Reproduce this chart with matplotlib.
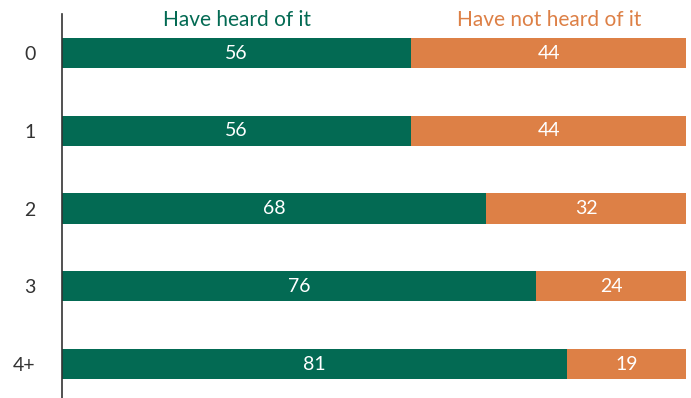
import matplotlib
matplotlib.use("Agg")
import matplotlib.pyplot as plt

categories = ["0", "1", "2", "3", "4+"]
heard = [56, 56, 68, 76, 81]
not_heard = [44, 44, 32, 24, 19]
series_names = ["Have heard of it", "Have not heard of it"]

green = "#036A53"
orange = "#DD8046"

plt.rcParams["font.family"] = ["Lato", "DejaVu Sans"]

fig = plt.figure(figsize=(6.91, 3.98), dpi=100)
ax = fig.add_axes([62 / 691, 0, (686 - 62) / 691, 1 - 14 / 398])

pos = list(range(len(categories)))
ax.barh(pos, heard, height=0.39, color=green)
ax.barh(pos, not_heard, left=heard, height=0.39, color=orange)

for i in pos:
    ax.text(heard[i] / 2, i, str(heard[i]), ha="center", va="center",
            color="white", fontsize=14)
    ax.text(heard[i] + not_heard[i] / 2, i, str(not_heard[i]), ha="center",
            va="center", color="white", fontsize=14)

# series headers above the first bar
ax.text(heard[0] / 2, -0.43, series_names[0], ha="center", va="center",
        color=green, fontsize=15)
ax.text(heard[0] + not_heard[0] / 2, -0.43, series_names[1], ha="center",
        va="center", color=orange, fontsize=15)

ax.set_xlim(0, 100)
ax.set_ylim(4.437, -0.502)
ax.set_yticks(pos)
ax.set_yticklabels(categories, fontsize=14, color="#333333")
ax.tick_params(axis="y", length=0, pad=19)
ax.set_xticks([])
for s in ["top", "right", "bottom"]:
    ax.spines[s].set_visible(False)
ax.spines["left"].set_color("#333333")
ax.spines["left"].set_linewidth(1.2)

fig.savefig("out.png", dpi=100)
